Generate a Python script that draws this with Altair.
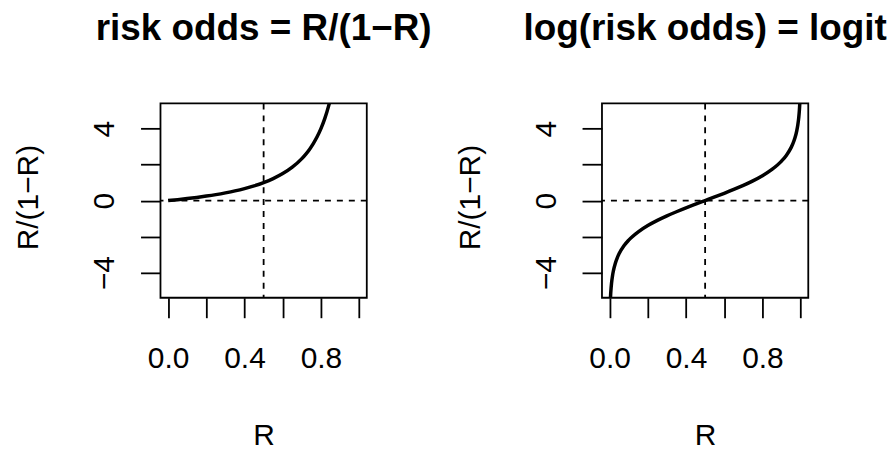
import altair as alt
import pandas as pd

# ---- data ----
R_odds = [0.0, 0.05, 0.1, 0.15, 0.2, 0.25, 0.3, 0.35, 0.4, 0.45, 0.5, 0.55, 0.6,
          0.65, 0.7, 0.72, 0.74, 0.76, 0.78, 0.8, 0.82, 0.84, 0.86]
odds_vals = [0.0, 0.053, 0.111, 0.176, 0.25, 0.333, 0.429, 0.538, 0.667, 0.818, 1.0,
             1.222, 1.5, 1.857, 2.333, 2.571, 2.846, 3.167, 3.545, 4.0, 4.556, 5.25, 6.14]

R_logit = [0.003, 0.005, 0.007, 0.01, 0.015, 0.02, 0.03, 0.04, 0.05, 0.075, 0.1, 0.15,
           0.2, 0.25, 0.3, 0.35, 0.4, 0.45, 0.5, 0.55, 0.6, 0.65, 0.7, 0.75, 0.8, 0.85,
           0.9, 0.925, 0.95, 0.96, 0.97, 0.98, 0.985, 0.99, 0.993, 0.995, 0.997]
logit_vals = [-5.806, -5.293, -4.955, -4.595, -4.185, -3.892, -3.476, -3.178, -2.944,
              -2.512, -2.197, -1.735, -1.386, -1.099, -0.847, -0.619, -0.405, -0.201, 0.0,
              0.201, 0.405, 0.619, 0.847, 1.099, 1.386, 1.735, 2.197, 2.512, 2.944, 3.178,
              3.476, 3.892, 4.185, 4.595, 4.955, 5.293, 5.806]

x_ticks = [0.0, 0.2, 0.4, 0.6, 0.8, 1.0]
y_ticks = [-4, -2, 0, 2, 4]
x_domain = [-0.04, 1.04]
y_domain = [-5.4, 5.4]
ref_R = [0.5]
ref_y = [0]
panel_titles = ["risk odds = R/(1\u2212R)", "log(risk odds) = logit"]
x_title = "R"
y_title = "R/(1\u2212R)"

FONT = "Liberation Sans"
W, H = 207, 195


def panel(Rs, vals, title):
    df = pd.DataFrame({"R": Rs, "y": vals})
    xs = alt.Scale(domain=x_domain, nice=False, zero=False)
    ys = alt.Scale(domain=y_domain, nice=False, zero=False)
    xaxis = alt.Axis(
        values=x_ticks, format=".1f",
        labelExpr="round(datum.value*10) % 4 == 0 ? datum.label : ''",
        domain=False, grid=False, tickSize=20, tickWidth=1.8, tickColor="black",
        labelFontSize=30, labelColor="black", labelBaseline="alphabetic",
        labelPadding=50, labelOverlap=False, labelFlush=False,
        title=x_title, titleFontSize=30, titleFontWeight="normal", titleColor="black",
        titleX=W / 2, titleY=147, titleAlign="center", titleBaseline="alphabetic",
    )
    yaxis = alt.Axis(
        values=y_ticks, format="d",
        labelExpr="datum.value % 4 == 0 ? datum.label : ''",
        domain=False, grid=False, tickSize=20, tickWidth=1.8, tickColor="black",
        labelFontSize=30, labelColor="black", labelAngle=270, labelAlign="center",
        labelBaseline="alphabetic", labelPadding=27, labelOverlap=False, labelFlush=False,
        title=y_title, titleFontSize=30, titleFontWeight="normal", titleColor="black",
        titleAngle=270, titleX=-123, titleY=94, titleAlign="center",
        titleBaseline="alphabetic",
    )
    line = alt.Chart(df).mark_line(
        color="black", strokeWidth=3.5, clip=True, interpolate="monotone"
    ).encode(
        x=alt.X("R:Q", scale=xs, axis=xaxis),
        y=alt.Y("y:Q", scale=ys, axis=yaxis),
    )
    vrule = alt.Chart(pd.DataFrame({"R": ref_R})).mark_rule(
        color="black", strokeWidth=1.8, strokeDash=[6, 6]
    ).encode(x=alt.X("R:Q", scale=xs, axis=xaxis))
    hrule = alt.Chart(pd.DataFrame({"y": ref_y})).mark_rule(
        color="black", strokeWidth=1.8, strokeDash=[6, 6]
    ).encode(y=alt.Y("y:Q", scale=ys, axis=yaxis))
    return alt.layer(line, vrule, hrule).properties(
        width=W, height=H,
        title=alt.TitleParams(
            text=title, fontSize=37, fontWeight="bold", anchor="middle",
            baseline="alphabetic", frame="group", offset=26, color="black", font=FONT,
        ),
    )


left = panel(R_odds, odds_vals, panel_titles[0])
right = panel(R_logit, logit_vals, panel_titles[1])

chart = alt.hconcat(left, right, spacing=236, bounds="flush").properties(
    padding={"left": 5, "top": 0, "right": 0, "bottom": 0}
).configure(
    font=FONT, background="white"
).configure_view(
    stroke="black", strokeWidth=1.8
)

chart.save("out.html", embed_options={"renderer": "svg", "actions": False})
